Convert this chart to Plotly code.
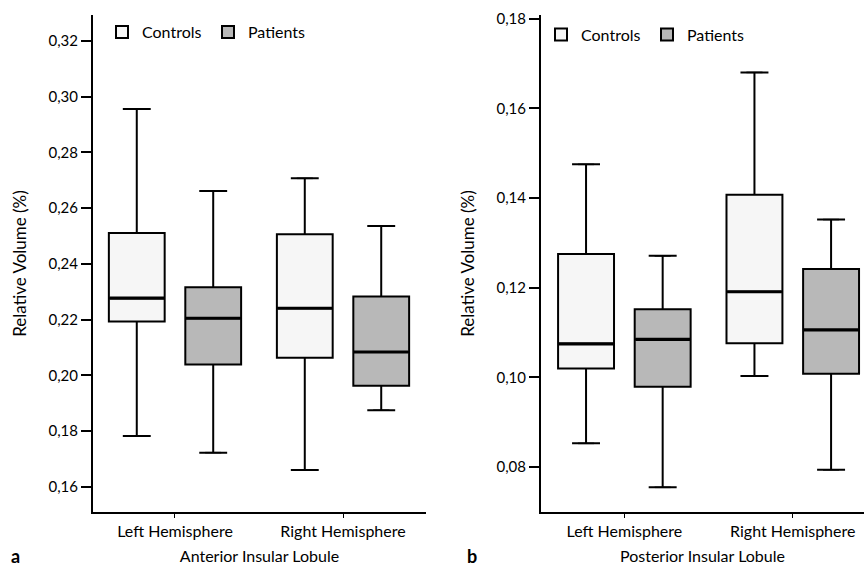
import numpy as np
import plotly.graph_objects as go

categories = ["Left Hemisphere", "Right Hemisphere"]
groups = ["Controls", "Patients"]

# Panel a: Anterior Insular Lobule
a_controls_low = [0.1783, 0.1661]
a_controls_q1 = [0.2193, 0.2063]
a_controls_med = [0.2277, 0.2241]
a_controls_q3 = [0.2511, 0.2506]
a_controls_high = [0.2956, 0.2707]

a_patients_low = [0.1723, 0.1875]
a_patients_q1 = [0.2039, 0.1963]
a_patients_med = [0.2205, 0.2084]
a_patients_q3 = [0.2316, 0.2283]
a_patients_high = [0.2662, 0.2536]

# Panel b: Posterior Insular Lobule
b_controls_low = [0.0853, 0.1003]
b_controls_q1 = [0.1020, 0.1076]
b_controls_med = [0.1075, 0.1191]
b_controls_q3 = [0.1275, 0.1407]
b_controls_high = [0.1475, 0.1680]

b_patients_low = [0.0755, 0.0794]
b_patients_q1 = [0.0979, 0.1008]
b_patients_med = [0.1085, 0.1106]
b_patients_q3 = [0.1152, 0.1242]
b_patients_high = [0.1271, 0.1352]

a_ticks = [0.16, 0.18, 0.20, 0.22, 0.24, 0.26, 0.28, 0.30, 0.32]
b_ticks = [0.08, 0.10, 0.12, 0.14, 0.16, 0.18]

BOXGAP = 0.09
BOXGROUPGAP = 0.27
FILLS = {"Controls": "#f6f6f6", "Patients": "#b8b8b8"}
FONT = "Lato"

pos = np.arange(len(categories))
fig = go.Figure()

panels = [
    ("x", "y", "legend", [
        ("Controls", a_controls_low, a_controls_q1, a_controls_med, a_controls_q3, a_controls_high),
        ("Patients", a_patients_low, a_patients_q1, a_patients_med, a_patients_q3, a_patients_high),
    ]),
    ("x2", "y2", "legend2", [
        ("Controls", b_controls_low, b_controls_q1, b_controls_med, b_controls_q3, b_controls_high),
        ("Patients", b_patients_low, b_patients_q1, b_patients_med, b_patients_q3, b_patients_high),
    ]),
]

n = len(groups)
for xa, ya, lg, series in panels:
    for gi, (name, low, q1, med, q3, high) in enumerate(series):
        fig.add_trace(go.Box(
            x=pos, lowerfence=low, q1=q1, median=med, q3=q3, upperfence=high,
            name=name, xaxis=xa, yaxis=ya, legend=lg,
            fillcolor=FILLS[name], line=dict(color="black", width=2),
            boxpoints=False, hoverinfo="skip", offsetgroup=name,
        ))
    for gi, (name, low, q1, med, q3, high) in enumerate(series):
        offset = (1 - BOXGAP) * (-0.5 + (gi + 0.5) / n)
        # whisker caps
        fig.add_trace(go.Scatter(
            x=np.concatenate([pos + offset, pos + offset]),
            y=list(low) + list(high),
            mode="markers", xaxis=xa, yaxis=ya, showlegend=False,
            marker=dict(symbol="line-ew", size=11.5,
                        line=dict(color="black", width=1.5)),
            hoverinfo="skip",
        ))
        # thicker median line
        fig.add_trace(go.Scatter(
            x=pos + offset, y=med,
            mode="markers", xaxis=xa, yaxis=ya, showlegend=False,
            marker=dict(symbol="line-ew", size=39,
                        line=dict(color="black", width=3.2)),
            hoverinfo="skip",
        ))

L, W = 93, 771
T, B = 15, 55
H = 567 - T - B
def px(x):
    return (x - L) / W
def py(y):
    return (567 - B - y) / H

yaxis_common = dict(
    showgrid=False, zeroline=False, showline=True, linecolor="black", linewidth=2,
    ticks="outside", ticklen=10, tickwidth=1.5, tickcolor="black",
    tickformat=".2f", tickfont=dict(size=15, color="black", family=FONT),
    title=dict(text="Relative Volume (%)", font=dict(size=17, color="black", family=FONT), standoff=18),
    domain=[0, 1],
)
xaxis_common = dict(
    showgrid=False, zeroline=False, showline=True, linecolor="black", linewidth=2,
    ticks="outside", ticklen=4, tickwidth=1, tickcolor="black",
    tickvals=list(pos), ticktext=categories,
    tickfont=dict(size=16, color="black", family=FONT),
)

legend_common = dict(orientation="h", xanchor="left", yanchor="top",
                     font=dict(size=16, family=FONT, color="black"), bgcolor="rgba(0,0,0,0)",
                     entrywidth=61, entrywidthmode="pixels", itemsizing="constant")

fig.update_layout(
    width=864, height=567,
    margin=dict(l=L, r=0, t=T, b=B),
    paper_bgcolor="white", plot_bgcolor="white",
    separators=",.",
    boxmode="group", boxgap=BOXGAP, boxgroupgap=BOXGROUPGAP,
    font=dict(family=FONT, color="black"),
    xaxis=dict(xaxis_common, domain=[0, px(426)], range=[-0.488, 1.494],
               title=dict(text="Anterior Insular Lobule", font=dict(size=16, family=FONT), standoff=12),
               anchor="y"),
    xaxis2=dict(xaxis_common, domain=[px(541), 1], range=[-0.495, 1.423],
                title=dict(text="Posterior Insular Lobule", font=dict(size=16, family=FONT), standoff=12),
                anchor="y2"),
    yaxis=dict(yaxis_common, range=[0.151, 0.3293], tickvals=a_ticks, anchor="x"),
    yaxis2=dict(yaxis_common, range=[0.0700, 0.1808], tickvals=b_ticks, anchor="x2"),
    legend=dict(legend_common, x=px(102), y=1.0),
    legend2=dict(legend_common, x=px(541), y=0.995),
    annotations=[
        dict(text="<b>a</b>", x=px(15), y=py(556), xref="paper", yref="paper",
             showarrow=False, font=dict(size=18, family=FONT), xanchor="center", yanchor="middle"),
        dict(text="<b>b</b>", x=px(472), y=py(556), xref="paper", yref="paper",
             showarrow=False, font=dict(size=18, family=FONT), xanchor="center", yanchor="middle"),
    ],
)

fig.write_html("out.html", config={"displayModeBar": False},
               post_script="document.body.style.margin='0px';")
